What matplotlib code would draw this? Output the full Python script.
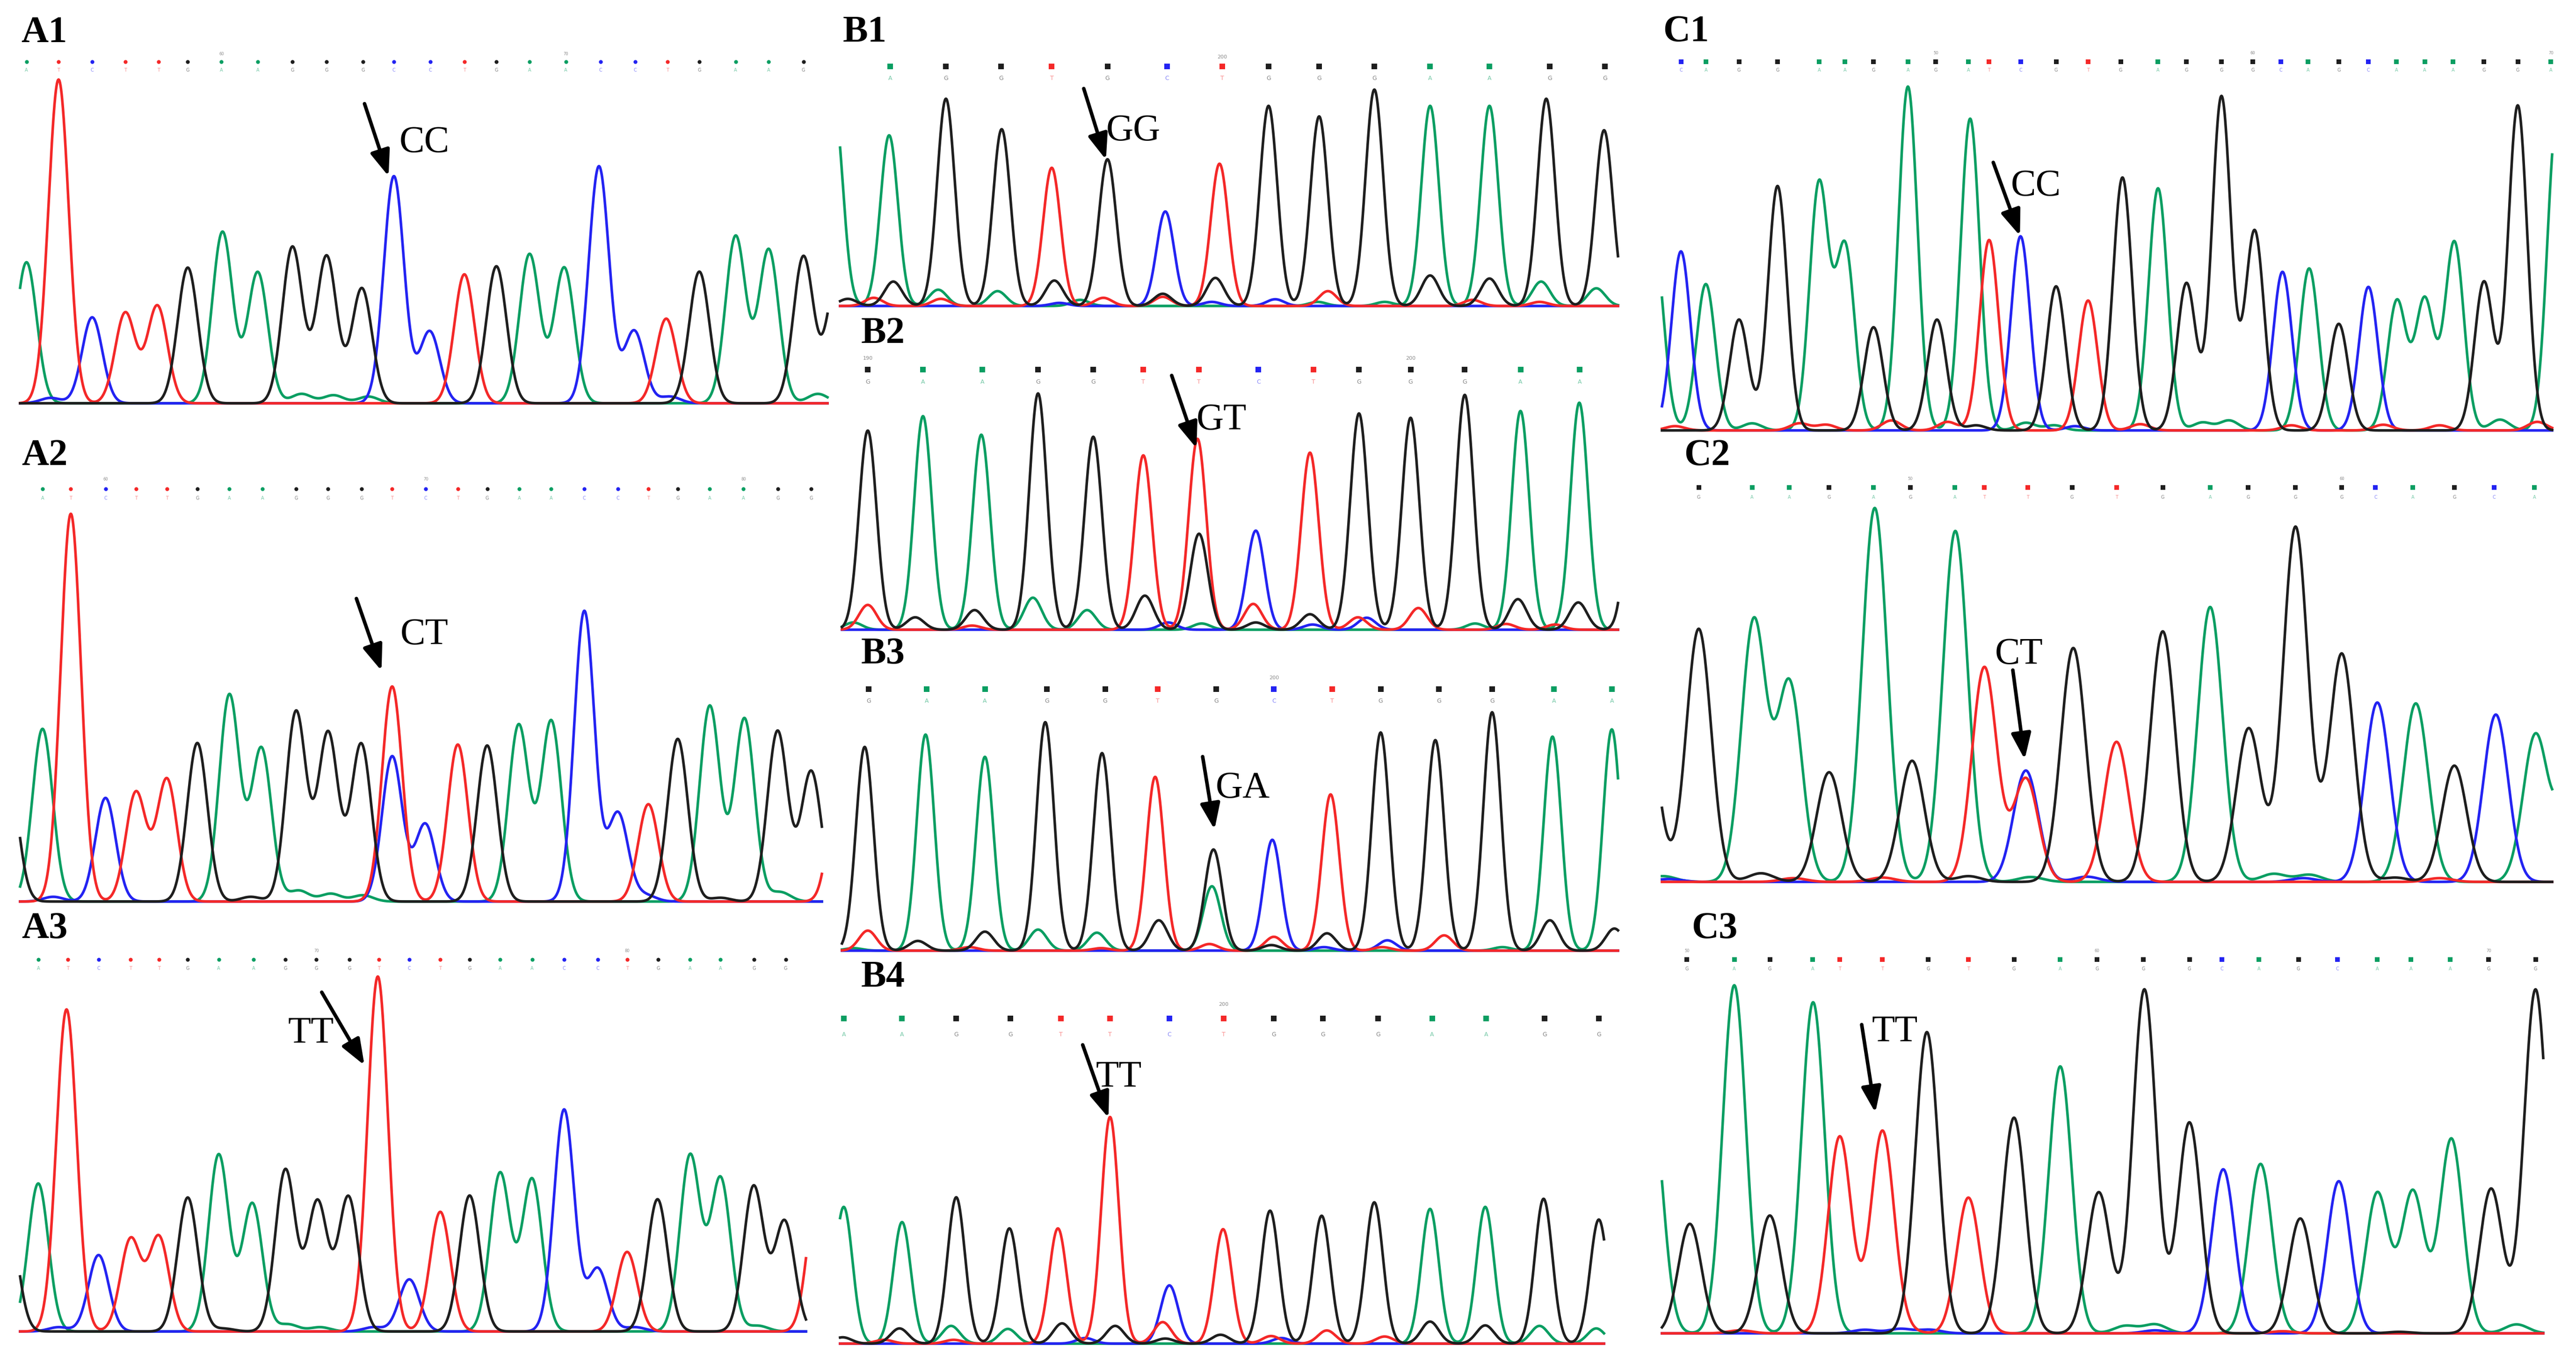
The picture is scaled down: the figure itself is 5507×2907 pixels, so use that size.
import numpy as np
import matplotlib as mpl
mpl.use('Agg')
import matplotlib.pyplot as plt

# figure size in pixels (dpi 100)
W, H = 5507, 2907

# trace colours per base, drawing order (black drawn last like the viewer)
COLORS = {'A': '#0a9e62', 'C': '#2323f2', 'G': '#1e1e1e', 'T': '#f42828'}
ORDER = ['A', 'C', 'T', 'G']
SERIF = ['Liberation Serif', 'DejaVu Serif']

# ---------------------------------------------------------------- data
# each panel: main peaks (scan position, base, height), small background
# peaks, base calls (position, letter) and the base numbers above them

# A1
A1_pos = [50, 110, 173, 235, 295, 352, 417, 483, 548, 612, 678, 738, 805, 870,
          930, 992, 1057, 1122, 1188, 1248, 1310, 1378, 1440, 1505, 1568]
A1_base = "ATCTTGAAGGGCCTGAACCTGAAGG"
A1_h = [525, 1205, 320, 337, 363, 505, 638, 488, 582, 548, 428, 845, 268, 480,
        510, 555, 505, 882, 270, 315, 490, 622, 572, 547, 470]
A1_minor_pos = [95, 565, 625, 690, 1255, 1532]
A1_minor_base = "CAAACA"
A1_minor_h = [20, 35, 30, 25, 25, 35]
A1_call_pos = [50, 110, 173, 235, 297, 352, 415, 483, 548, 612, 680, 738, 806,
               870, 930, 992, 1060, 1125, 1190, 1250, 1310, 1378, 1440, 1505]
A1_calls = "ATCTTGAAGGGCCTGAACCTGAAG"
A1_numbers = {6: "60", 16: "70"}

# A2
A2_pos = [15, 80, 133, 198, 255, 313, 370, 430, 490, 555, 615, 677, 735, 735,
          797, 858, 913, 972, 1033, 1095, 1158, 1215, 1270, 1330, 1395, 1457,
          1520, 1575]
A2_base = "GATCTTGAAGGGTCCTGAACCTGAAGGT"
A2_h = [420, 550, 1235, 330, 348, 390, 505, 658, 488, 605, 537, 502, 685, 462,
        247, 500, 497, 562, 575, 925, 282, 310, 518, 623, 583, 543, 415, 480]
A2_minor_pos = [560, 620, 680, 1462, 1210, 470, 100, 1350]
A2_minor_base = "AAAACGCG"
A2_minor_h = [35, 25, 20, 30, 20, 15, 15, 12]
A2_call_pos = [80, 133, 198, 255, 313, 370, 430, 492, 555, 615, 678, 735, 798,
               858, 913, 973, 1033, 1095, 1158, 1215, 1270, 1330, 1393, 1458, 1520]
A2_calls = "ATCTTGAAGGGTCTGAACCTGAAGG"
A2_numbers = {2: "60", 12: "70", 22: "80"}

# A3
A3_pos = [15, 72, 125, 185, 245, 298, 352, 410, 473, 535, 595, 653, 708, 767,
          825, 880, 937, 997, 1057, 1120, 1175, 1232, 1293, 1350, 1412, 1470, 1532]
A3_base = "GATCTTGAAGGGTCTGAACCTGAAGGT"
A3_h = [400, 517, 1125, 267, 322, 330, 468, 618, 447, 565, 453, 470, 1240, 182,
        418, 475, 553, 532, 775, 220, 278, 462, 615, 535, 507, 385, 500]
A3_minor_pos = [540, 600, 1420, 110, 700, 420, 1190]
A3_minor_base = "AAACCGC"
A3_minor_h = [25, 15, 20, 15, 15, 10, 15]
A3_call_pos = [72, 127, 185, 245, 298, 352, 410, 475, 535, 593, 655, 710, 767,
               825, 880, 937, 997, 1057, 1120, 1175, 1233, 1293, 1350, 1413, 1472]
A3_calls = "ATCTTGAAGGGTCTGAACCTGAAGG"
A3_numbers = {9: "70", 19: "80"}

# B1
B1_pos = [3, 110, 220, 328, 425, 533, 645, 750, 845, 943, 1050, 1158, 1273,
          1383, 1495]
B1_base = "AAGGTGCTGGGAAGG"
B1_h = [1000, 840, 1020, 870, 680, 722, 465, 700, 985, 933, 1065, 985, 985,
        1020, 865]
B1_minor_pos = [30, 80, 118, 205, 210, 320, 430, 440, 480, 525, 640, 640, 742,
                735, 858, 940, 960, 1070, 1158, 1240, 1273, 1370, 1373, 1480]
B1_minor_base = "GTGATAGCATGTGCCATAGTGTAA"
B1_minor_h = [35, 40, 120, 80, 35, 73, 125, 15, 30, 40, 60, 45, 138, 20, 33,
              20, 73, 20, 150, 30, 135, 20, 120, 87]
B1_call_pos = [112, 220, 327, 425, 533, 648, 755, 845, 943, 1050, 1158, 1273,
               1390, 1497]
B1_calls = "AGGTGCTGGGAAGG"
B1_numbers = {6: "200"}

# B2
B2_pos = [68, 175, 288, 398, 505, 602, 707, 710, 820, 925, 1020, 1120, 1225,
          1333, 1447, 1555]
B2_base = "GAAGGTTGCTGGGAAG"
B2_h = [965, 1035, 945, 1145, 935, 845, 925, 465, 480, 858, 1048, 1027, 1138,
        1060, 1100, 850]
B2_minor_pos = [40, 68, 160, 275, 270, 388, 493, 605, 650, 715, 815, 820, 925,
                930, 1018, 1035, 1135, 1245, 1305, 1328, 1400, 1445]
B2_minor_base = "ATGGTAAGCATGGCTCTATGTG"
B2_minor_h = [35, 120, 60, 95, 20, 155, 95, 165, 35, 30, 125, 35, 75, 25, 60,
              58, 105, 30, 28, 148, 25, 132]
B2_call_pos = [68, 175, 290, 398, 505, 602, 710, 825, 932, 1020, 1120, 1225,
               1333, 1448]
B2_calls = "GAAGGTTCTGGGAA"
B2_numbers = {0: "190", 10: "200"}

# B3
B3_pos = [62, 180, 295, 412, 522, 625, 735, 738, 852, 965, 1062, 1168, 1278,
          1395, 1510]
B3_base = "GAAGGTAGCTGGGAA"
B3_h = [987, 1047, 939, 1107, 957, 842, 312, 490, 537, 757, 1057, 1020, 1155,
        1037, 1072]
B3_minor_pos = [68, 40, 165, 295, 265, 398, 512, 520, 632, 730, 855, 850, 958,
                952, 1075, 1065, 1185, 1298, 1390, 1515]
B3_minor_base = "TAGGTAATGTTGGCCTTAGG"
B3_minor_h = [97, 12, 47, 92, 17, 102, 87, 12, 147, 32, 67, 27, 84, 17, 50, 17,
              74, 17, 147, 107]
B3_call_pos = [70, 182, 295, 415, 528, 630, 743, 855, 968, 1062, 1175, 1278,
               1398, 1510]
B3_calls = "GAAGGTGCTGGGAA"
B3_numbers = {7: "200"}

# B4
B4_pos = [22, 135, 240, 343, 437, 538, 653, 757, 848, 948, 1050, 1158, 1265,
          1378, 1485]
B4_base = "AAGGTTCTGGGAAGG"
B4_h = [540, 480, 578, 455, 455, 895, 230, 452, 525, 505, 558, 532, 540, 572,
        490]
B4_minor_pos = [20, 100, 130, 230, 235, 340, 445, 490, 548, 640, 645, 752, 850,
                870, 958, 1070, 1158, 1265, 1370, 1480]
B4_minor_base = "GTGATAGCGTGGTCTTGGAA"
B4_minor_h = [25, 15, 60, 70, 15, 58, 80, 22, 70, 85, 20, 35, 30, 22, 52, 28,
              87, 72, 70, 60]
B4_call_pos = [22, 135, 240, 345, 443, 538, 653, 758, 855, 950, 1057, 1162,
               1267, 1380, 1485]
B4_calls = "AAGGTTCTGGGAAGG"
B4_numbers = {7: "200"}

# C1
C1_pos = [5, 50, 92, 148, 213, 283, 327, 375, 433, 482, 538, 570, 623, 683,
          737, 795, 855, 903, 962, 1018, 1065, 1110, 1160, 1210, 1258, 1305,
          1355, 1405, 1462, 1528]
C1_base = "ACAGGAAGAGATCGTGAGGGCAGCAAAGGA"
C1_h = [650, 630, 515, 390, 860, 867, 645, 363, 1210, 390, 1097, 670, 683, 507,
        457, 890, 852, 518, 1175, 703, 558, 570, 375, 505, 455, 460, 663, 523,
        1143, 1100]
C1_minor_pos = [40, 170, 250, 295, 405, 500, 548, 632, 680, 715, 825, 930, 975,
                1080, 1235, 1330, 1432, 1495]
C1_minor_base = "TATTTTGAACTAATTTAT"
C1_minor_h = [15, 25, 25, 20, 35, 30, 18, 27, 18, 15, 22, 28, 35, 18, 20, 18,
              38, 30]
C1_call_pos = [50, 92, 148, 213, 283, 327, 375, 433, 480, 535, 570, 623, 683,
               737, 792, 855, 903, 962, 1015, 1062, 1108, 1160, 1210, 1257,
               1305, 1353, 1405, 1462, 1518]
C1_calls = "CAGGAAGAGATCGTGAGGGCAGCAAAGGA"
C1_numbers = {8: "50", 18: "60", 28: "70"}

# C2
C2_pos = [-10, 80, 173, 233, 300, 377, 440, 513, 562, 632, 632, 712, 785, 863,
          943, 1008, 1087, 1165, 1225, 1290, 1355, 1425, 1492, 1555]
C2_base = "GGAAGAGATCTGTGAGGGCAGCAA"
C2_h = [600, 882, 910, 692, 382, 1303, 422, 1223, 748, 388, 360, 815, 488, 873,
        958, 535, 1237, 795, 625, 622, 405, 583, 513, 450]
C2_minor_pos = [20, 30, 185, 240, 390, 535, 640, 735, 1050, 1110, 1100, 1255,
                1330]
C2_minor_base = "ACGTTGACAACGT"
C2_minor_h = [20, 10, 30, 13, 15, 20, 17, 18, 28, 25, 13, 15, 13]
C2_call_pos = [80, 170, 233, 300, 375, 437, 512, 562, 635, 710, 785, 863, 943,
               1007, 1087, 1165, 1222, 1285, 1355, 1422, 1490]
C2_calls = "GAAGAGATTGTGAGGGCAGCA"
C2_numbers = {5: "50", 15: "60"}

# C3
C3_pos = [0, 65, 140, 200, 273, 318, 390, 465, 535, 612, 690, 755, 832, 908,
          965, 1028, 1095, 1160, 1225, 1285, 1350, 1417, 1492]
C3_base = "AGAGATTGTGAGGGCAGCAAAGG"
C3_h = [780, 367, 1167, 395, 1110, 660, 678, 1010, 455, 723, 895, 473, 1153,
        707, 550, 568, 385, 510, 470, 475, 652, 485, 1153]
C3_minor_pos = [150, 360, 420, 470, 430, 800, 850, 850, 1065, 1262, 1460]
C3_minor_base = "TCCCTAACTGA"
C3_minor_h = [10, 12, 15, 12, 10, 25, 30, 10, 7, 5, 30]
C3_call_pos = [60, 140, 200, 272, 318, 390, 467, 535, 612, 690, 752, 830, 908,
               963, 1025, 1092, 1158, 1225, 1282, 1348, 1413, 1492]
C3_calls = "GAGATTGTGAGGGCAGCAAAGG"
C3_numbers = {0: "50", 10: "60", 20: "70"}

# genotype at the arrowed site
GENOTYPES = {'A1': 'CC', 'A2': 'CT', 'A3': 'TT',
             'B1': 'GG', 'B2': 'GT', 'B3': 'GA', 'B4': 'TT',
             'C1': 'CC', 'C2': 'CT', 'C3': 'TT'}

# ---------------------------------------------------------------- layout
# rect = (left, top, right, bottom) in figure pixels, xlim in scan units,
# ymax = signal at the top edge, label = (left, baseline) in pixels
LAYOUT = {
    'A1': dict(rect=(43, 104, 1769, 862), xlim=(38, 1550), ymax=1320, sigma=19,
               label=(45, 90), rows=(1272, 1240, 1300), style='A',
               arrow=((683, 1115), (728, 845)), text=(748, 935)),
    'A2': dict(rect=(43, 1011, 1757, 1927), xlim=(38, 1540), ymax=1365, sigma=19,
               label=(46, 994), rows=(1315, 1285, 1345), style='A',
               arrow=((668, 965), (715, 735)), text=(750, 820)),
    'A3': dict(rect=(43, 2020, 1723, 2846), xlim=(38, 1510), ymax=1350, sigma=19,
               label=(46, 2005), rows=(1300, 1268, 1330), style='A',
               arrow=((603, 1185), (683, 930)), text=(540, 1010)),
    'B1': dict(rect=(1796, 109, 3459, 654), xlim=(15, 1522), ymax=1255, sigma=17,
               label=(1802, 89), rows=(1180, 1120, 1225), style='B',
               arrow=((487, 1070), (530, 720)), text=(530, 815)),
    'B2': dict(rect=(1800, 755, 3459, 1346), xlim=(18, 1522), ymax=1340, sigma=17,
               label=(1841, 733), rows=(1260, 1200, 1315), style='B',
               arrow=((657, 1232), (705, 880)), text=(705, 970)),
    'B3': dict(rect=(1800, 1440, 3459, 2032), xlim=(18, 1522), ymax=1342, sigma=17,
               label=(1841, 1418), rows=(1267, 1210, 1322), style='B',
               arrow=((717, 940), (740, 587)), text=(742, 742)),
    'B4': dict(rect=(1796, 2136, 3429, 2872), xlim=(15, 1495), ymax=1360, sigma=17,
               label=(1841, 2109), rows=(1285, 1220, 1340), style='B',
               arrow=((485, 1180), (535, 892)), text=(510, 1015)),
    'C1': dict(rect=(3553, 103, 5456, 920), xlim=(18, 1520), ymax=1345, sigma=16,
               label=(3555, 88), rows=(1297, 1267, 1327), style='C',
               arrow=((577, 943), (622, 685)), text=(607, 827)),
    'C2': dict(rect=(3553, 1011, 5456, 1885), xlim=(18, 1520), ymax=1425, sigma=21,
               label=(3600, 994), rows=(1375, 1340, 1405), style='C',
               arrow=((610, 738), (630, 427)), text=(580, 760)),
    'C3': dict(rect=(3553, 2018, 5437, 2850), xlim=(18, 1505), ymax=1305, sigma=19.5,
               label=(3616, 2005), rows=(1253, 1222, 1283), style='C',
               arrow=((355, 1035), (378, 740)), text=(372, 980)),
}

CALL_STYLE = {'A': dict(marker='o', ms=6, fs=7),
              'B': dict(marker='s', ms=8.5, fs=9),
              'C': dict(marker='s', ms=6.5, fs=7)}

DATA = {
    'A1': (A1_pos, A1_base, A1_h, A1_minor_pos, A1_minor_base, A1_minor_h, A1_call_pos, A1_calls, A1_numbers),
    'A2': (A2_pos, A2_base, A2_h, A2_minor_pos, A2_minor_base, A2_minor_h, A2_call_pos, A2_calls, A2_numbers),
    'A3': (A3_pos, A3_base, A3_h, A3_minor_pos, A3_minor_base, A3_minor_h, A3_call_pos, A3_calls, A3_numbers),
    'B1': (B1_pos, B1_base, B1_h, B1_minor_pos, B1_minor_base, B1_minor_h, B1_call_pos, B1_calls, B1_numbers),
    'B2': (B2_pos, B2_base, B2_h, B2_minor_pos, B2_minor_base, B2_minor_h, B2_call_pos, B2_calls, B2_numbers),
    'B3': (B3_pos, B3_base, B3_h, B3_minor_pos, B3_minor_base, B3_minor_h, B3_call_pos, B3_calls, B3_numbers),
    'B4': (B4_pos, B4_base, B4_h, B4_minor_pos, B4_minor_base, B4_minor_h, B4_call_pos, B4_calls, B4_numbers),
    'C1': (C1_pos, C1_base, C1_h, C1_minor_pos, C1_minor_base, C1_minor_h, C1_call_pos, C1_calls, C1_numbers),
    'C2': (C2_pos, C2_base, C2_h, C2_minor_pos, C2_minor_base, C2_minor_h, C2_call_pos, C2_calls, C2_numbers),
    'C3': (C3_pos, C3_base, C3_h, C3_minor_pos, C3_minor_base, C3_minor_h, C3_call_pos, C3_calls, C3_numbers),
}


def trace(x, pos, bases, heights, base, sigma):
    """sum of gaussian peaks for one dye channel"""
    y = np.zeros_like(x)
    for p, b, h in zip(pos, bases, heights):
        if b == base:
            y += h * np.exp(-(x - p) ** 2 / (2.0 * sigma ** 2))
    return y


def draw_panel(fig, name):
    lay = LAYOUT[name]
    pos, base, h, mpos, mbase, mh, cpos, calls, numbers = DATA[name]
    l, t, r, b = lay['rect']
    ax = fig.add_axes([l / W, 1 - b / H, (r - l) / W, (b - t) / H])
    ax.set_xlim(*lay['xlim'])
    ax.set_ylim(0, lay['ymax'])
    ax.axis('off')

    x = np.linspace(lay['xlim'][0], lay['xlim'][1], 3000)
    allpos = list(pos) + list(mpos)
    allbase = list(base) + list(mbase)
    allh = list(h) + list(mh)
    for ch in ORDER:
        y = trace(x, allpos, allbase, allh, ch, lay['sigma'])
        ax.plot(x, y, color=COLORS[ch], lw=4.0, clip_on=False,
                solid_joinstyle='round')

    # base call row: dot, letter and base number
    dot_y, let_y, num_y = lay['rows']
    st = CALL_STYLE[lay['style']]
    for i, (p, c) in enumerate(zip(cpos, calls)):
        ax.plot([p], [dot_y], marker=st['marker'], ms=st['ms'], color=COLORS[c],
                mew=0, clip_on=False)
        ax.text(p, let_y, c, color=COLORS[c], alpha=0.55, fontsize=st['fs'],
                ha='center', va='center', family='DejaVu Sans')
        if i in numbers:
            ax.text(p, num_y, numbers[i], color='#8a8a8a', fontsize=st['fs'] - 1,
                    ha='center', va='center', family='DejaVu Sans')

    # arrow and genotype
    tail, tip = lay['arrow']
    ax.annotate('', xy=tip, xytext=tail,
                arrowprops=dict(arrowstyle='-|>,head_length=2.1,head_width=0.8',
                                mutation_scale=16, lw=5.5, color='black',
                                shrinkA=0, shrinkB=0))
    ax.text(lay['text'][0], lay['text'][1], GENOTYPES[name], fontsize=58,
            family=SERIF, ha='left', va='baseline', color='black')

    # panel label
    lx, ly = lay['label']
    fig.text(lx / W, 1 - ly / H, name, fontsize=58, fontweight='bold',
             family=SERIF, ha='left', va='baseline', color='black')


fig = plt.figure(figsize=(W / 100, H / 100), dpi=100)
fig.patch.set_facecolor('white')
for name in LAYOUT:
    draw_panel(fig, name)

fig.savefig('out.png', dpi=100, facecolor='white')
